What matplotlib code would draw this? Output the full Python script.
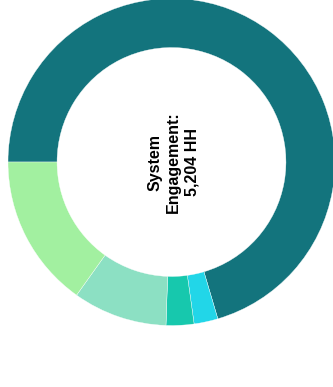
import matplotlib.pyplot as plt

# segment values (households), clockwise from 9 o'clock
labels = ['Segment A', 'Segment B', 'Segment C', 'Segment D', 'Segment E']
values = [3665, 123, 143, 485, 788]
colors = ['#13747d', '#22d6e8', '#17c8ad', '#8ce0c3', '#a2f0a0']
center_text = 'System\nEngagement:\n5,204 HH'

W, H = 333, 387
cx, cy, R = 171.5, 162, 163.5

fig = plt.figure(figsize=(W / 100, H / 100), dpi=100)
ax = fig.add_axes([0, 0, 1, 1])

ax.pie(values, colors=colors, startangle=180, counterclock=False,
       radius=1.0, wedgeprops=dict(width=0.3, edgecolor='white', linewidth=0.25))

ax.text(0.01, 0, center_text, rotation=90, ha='center', va='center',
        fontsize=11.5, fontweight='bold', family='Liberation Sans',
        linespacing=1.3, color='black')

ax.set_xlim(-cx / R, (W - cx) / R)
ax.set_ylim(-(H - cy) / R, cy / R)
ax.set_aspect('auto')
ax.axis('off')

fig.savefig('out.png', dpi=100, facecolor='white')
